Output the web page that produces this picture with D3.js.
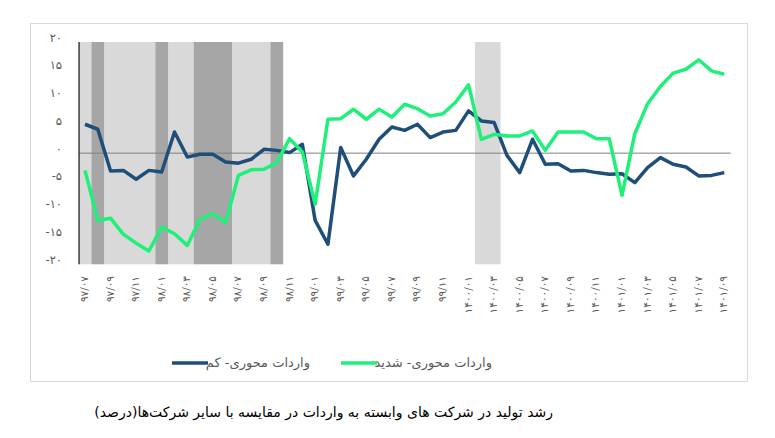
<!DOCTYPE html>
<html>
<head>
<meta charset="utf-8">
<script src="https://cdn.jsdelivr.net/npm/d3@7"></script>
<style>
  html, body { margin: 0; padding: 0; background: #fff; }
  svg { display: block; font-family: "DejaVu Sans", "Noto Sans", sans-serif; }
</style>
</head>
<body>
<svg id="chart" width="775" height="438"></svg>
<script>
// ---- Data ----
const months = [
  "97/07","97/08","97/09","97/10","97/11","97/12",
  "98/01","98/02","98/03","98/04","98/05","98/06","98/07","98/08","98/09","98/10","98/11","98/12",
  "99/01","99/02","99/03","99/04","99/05","99/06","99/07","99/08","99/09","99/10","99/11","99/12",
  "1400/01","1400/02","1400/03","1400/04","1400/05","1400/06","1400/07","1400/08","1400/09","1400/10","1400/11","1400/12",
  "1401/01","1401/02","1401/03","1401/04","1401/05","1401/06","1401/07","1401/08","1401/09"
];
const tickMonths = [
  "97/07","97/09","97/11","98/01","98/03","98/05","98/07","98/09","98/11",
  "99/01","99/03","99/05","99/07","99/09","99/11",
  "1400/01","1400/03","1400/05","1400/07","1400/09","1400/11",
  "1401/01","1401/03","1401/05","1401/07","1401/09"
];
const lowImport = [
  5.2, 4.3, -3.2, -3.1, -4.7, -3.1, -3.4, 3.8, -0.7, -0.2, -0.2, -1.6, -1.8, -1.1, 0.7, 0.5, 0.1, 1.6,
  -12.1, -16.4, 1.0, -4.1, -1.1, 2.5, 4.7, 4.1, 5.2, 2.8, 3.8, 4.1, 7.6, 5.8, 5.5, -0.4, -3.5, 2.5,
  -2.0, -1.9, -3.2, -3.1, -3.5, -3.8, -3.7, -5.3, -2.6, -0.8, -2.0, -2.5, -4.1, -4.0, -3.5
];
const highImport = [
  -3.1, -12.1, -11.7, -14.6, -16.2, -17.6, -13.3, -14.5, -16.6, -11.9, -10.9, -12.5, -4.0, -3.0, -2.9, -1.7, 2.6, 0.2,
  -9.2, 6.1, 6.2, 7.9, 6.1, 7.9, 6.5, 8.8, 8.0, 6.7, 7.1, 9.2, 12.3, 2.5, 3.4, 3.1, 3.1, 4.0,
  0.5, 3.8, 3.8, 3.8, 2.6, 2.6, -7.6, 3.5, 8.9, 12.0, 14.4, 15.1, 16.8, 14.8, 14.2
];
const yTicks = [20, 15, 10, 5, 0, -5, -10, -15, -20];
const shadeDarkMonths = ["97/08","98/01","98/04","98/05","98/06","98/10"];
const shadeLightMonths = ["97/07","97/09","97/10","97/11","97/12","98/02","98/03","98/07","98/08","98/09","1400/02","1400/03"];
const seriesNames = ["واردات محوری- کم", "واردات محوری- شدید"];
const seriesColors = ["#1f4e79", "#1ef07a"];
const titleText = "رشد تولید در شرکت های وابسته به واردات در مقایسه با سایر شرکت‌ها(درصد)";

// ---- Helpers ----
const faDigits = s => String(s).replace(/\d/g, d => "۰۱۲۳۴۵۶۷۸۹"[d]);
const fmtY = v => v < 0 ? "-" + faDigits(Math.abs(v)) : faDigits(v);
// group contiguous months into [first,last] runs
function runs(list) {
  const idx = list.map(m => months.indexOf(m)).sort((a, b) => a - b);
  const out = [];
  idx.forEach(i => {
    const last = out[out.length - 1];
    if (last && last[1] === i - 1) last[1] = i; else out.push([i, i]);
  });
  return out.map(r => [months[r[0]], months[r[1]]]);
}

// ---- Layout ----
const svg = d3.select("#chart");
const plot = { left: 78.6, right: 730.7, top: 42, bottom: 264.3 };

const x = d3.scaleBand().domain(months).range([plot.left, plot.right]).paddingInner(0).paddingOuter(0);
const xc = m => x(m) + x.bandwidth() / 2;
const y = d3.scaleLinear().domain([-20, 20]).range([plot.bottom, plot.top]);

// outer border
svg.append("rect")
  .attr("x", 30.5).attr("y", 23.5).attr("width", 717).attr("height", 358)
  .attr("fill", "#fff").attr("stroke", "#d9d9d9").attr("stroke-width", 1);

// shading (light first, dark on top)
const drawShade = (list, color) => svg.append("g").selectAll("rect").data(runs(list)).join("rect")
  .attr("x", d => x(d[0]))
  .attr("width", d => x(d[1]) + x.bandwidth() - x(d[0]))
  .attr("y", plot.top).attr("height", plot.bottom - plot.top)
  .attr("fill", color);
drawShade(shadeLightMonths, "#d9d9d9");
drawShade(shadeDarkMonths, "#a6a6a6");

// zero line
svg.append("line")
  .attr("x1", plot.left).attr("x2", plot.right)
  .attr("y1", y(0)).attr("y2", y(0))
  .attr("stroke", "#808080").attr("stroke-width", 1);

// left axis line
svg.append("line")
  .attr("x1", plot.left + 0.5).attr("x2", plot.left + 0.5)
  .attr("y1", plot.top).attr("y2", plot.bottom)
  .attr("stroke", "#404040").attr("stroke-width", 1.5);

// y labels
svg.append("g").selectAll("text").data(yTicks).join("text")
  .attr("x", 62).attr("y", d => y(d) - 4)
  .attr("text-anchor", "end").attr("dominant-baseline", "middle")
  .attr("font-size", 11.5).attr("fill", "#595959")
  .attr("direction", "ltr")
  .text(d => fmtY(d));

// x labels
svg.append("g").selectAll("text").data(tickMonths).join("text")
  .attr("transform", d => `translate(${xc(d)},276) rotate(-90)`)
  .attr("text-anchor", "end").attr("dominant-baseline", "middle")
  .attr("font-size", 10.5).attr("fill", "#595959")
  .attr("direction", "ltr")
  .text(d => faDigits(d));

// lines
const line = d3.line().x((d, i) => xc(months[i])).y(d => y(d));
[lowImport, highImport].forEach((s, k) => {
  svg.append("path").datum(s)
    .attr("d", line)
    .attr("fill", "none")
    .attr("stroke", seriesColors[k])
    .attr("stroke-width", 3.5)
    .attr("stroke-linejoin", "round");
});

// legend
const legendItems = [
  { lx1: 172, lx2: 208, tx: 310, name: seriesNames[0], color: seriesColors[0] },
  { lx1: 341, lx2: 377, tx: 492, name: seriesNames[1], color: seriesColors[1] }
];
const lg = svg.append("g");
legendItems.forEach(it => {
  lg.append("line").attr("x1", it.lx1).attr("x2", it.lx2)
    .attr("y1", 363).attr("y2", 363)
    .attr("stroke", it.color).attr("stroke-width", 3.5);
  lg.append("text").attr("x", it.tx).attr("y", 363)
    .attr("direction", "rtl").attr("text-anchor", "start")
    .attr("dominant-baseline", "middle")
    .attr("font-size", 13).attr("fill", "#595959")
    .text(it.name);
});

// title
svg.append("text")
  .attr("x", 553).attr("y", 413)
  .attr("direction", "rtl").attr("text-anchor", "start")
  .attr("dominant-baseline", "middle")
  .attr("font-size", 14).attr("fill", "#000")
  .text(titleText);
</script>
</body>
</html>
